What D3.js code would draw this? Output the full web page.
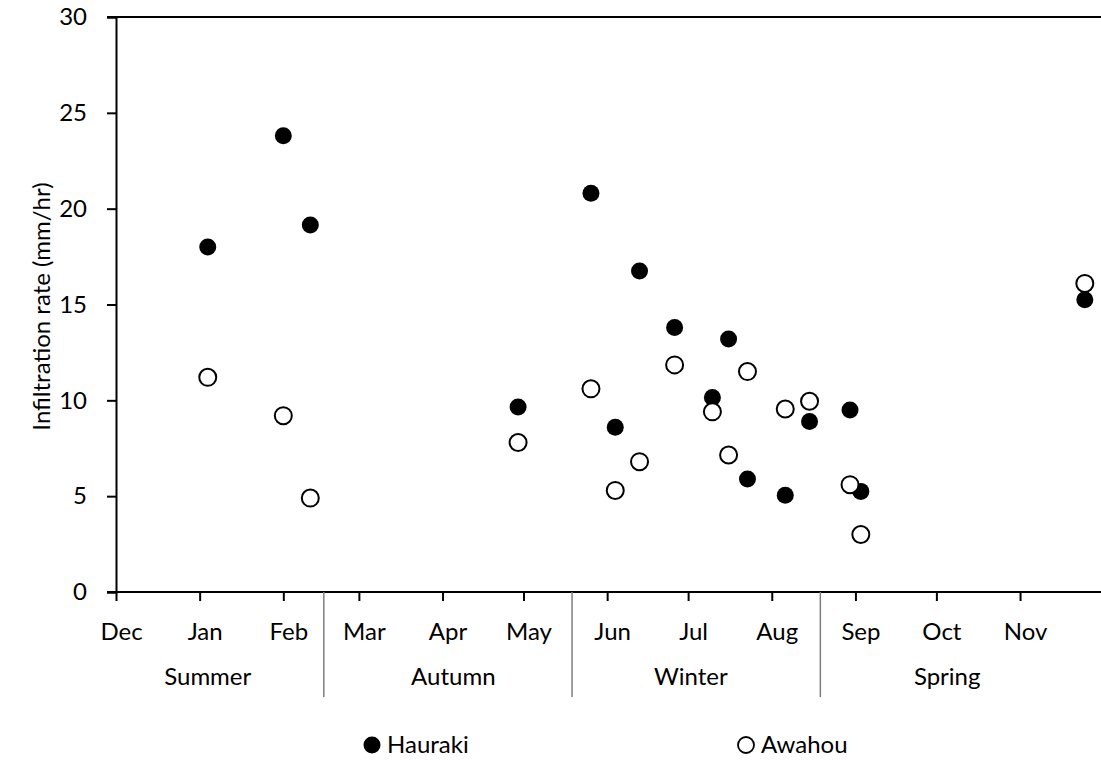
<!DOCTYPE html>
<html>
<head>
<meta charset="utf-8">
<script src="https://cdn.jsdelivr.net/npm/d3@7"></script>
<style>
  body { margin: 0; background: #fff; }
  text { font-family: Lato, "Noto Sans", sans-serif; fill: #000; }
</style>
</head>
<body>
<div id="container"></div>
<script>
// sampling dates (one Hauraki and one Awahou measurement each)
const sampleDates = ["2015-01-04", "2015-02-01", "2015-02-11", "2015-04-29", "2015-05-26",
                     "2015-06-04", "2015-06-13", "2015-06-26", "2015-07-10", "2015-07-16",
                     "2015-07-23", "2015-08-06", "2015-08-15", "2015-08-30", "2015-09-03",
                     "2015-11-25"];
const hauraki = [18.0, 23.8, 19.15, 9.65, 20.8, 8.6, 16.75, 13.8, 10.15, 13.2,
                 5.9, 5.05, 8.9, 9.5, 5.25, 15.25];
const awahou = [11.2, 9.2, 4.9, 7.8, 10.6, 5.3, 6.8, 11.85, 9.4, 7.15,
                11.5, 9.55, 9.95, 5.6, 3.0, 16.1];

const monthLabels = ["Dec", "Jan", "Feb", "Mar", "Apr", "May", "Jun", "Jul", "Aug", "Sep", "Oct", "Nov"];
const yTicks = [0, 5, 10, 15, 20, 25, 30];
const seasons = ["Summer", "Autumn", "Winter", "Spring"];
const seasonCentres = ["2015-01-04", "2015-04-05", "2015-07-02", "2015-10-05"];
const seasonBreaks = ["2015-02-16", "2015-05-19", "2015-08-19"];
const seriesNames = ["Hauraki", "Awahou"];

const WIDTH = 1101, HEIGHT = 760;
const margin = { top: 17, bottom: 168, left: 116, right: 0 };
const width = WIDTH - margin.left - margin.right,
      height = HEIGHT - margin.top - margin.bottom;

const parse = d3.timeParse("%Y-%m-%d");
const start = new Date(2014, 11, 1), end = new Date(2015, 11, 1);

const svg = d3.select("#container").append("svg")
    .attr("width", WIDTH).attr("height", HEIGHT);

const xScale = d3.scaleTime().domain([start, end]).range([margin.left, margin.left + width]);
const yScale = d3.scaleLinear().domain([0, 30]).range([margin.top + height, margin.top]);

const monthDates = d3.timeMonth.range(start, end);

// y axis
const yAxis = d3.axisLeft(yScale).tickValues(yTicks).tickSize(9).tickPadding(20);
const gy = svg.append("g")
    .attr("transform", `translate(${margin.left},0)`)
    .call(yAxis);
gy.select(".domain").attr("stroke", "#000").attr("stroke-width", 2);
gy.selectAll(".tick line").attr("stroke", "#000").attr("stroke-width", 2);
gy.selectAll(".tick text").style("font-size", "24px").attr("font-family", null);

// top border line
svg.append("line")
    .attr("x1", margin.left - 9).attr("x2", margin.left + width)
    .attr("y1", yScale(30)).attr("y2", yScale(30))
    .attr("stroke", "#000").attr("stroke-width", 2);

// x axis (months)
const xAxis = d3.axisBottom(xScale)
    .tickValues(monthDates)
    .tickFormat((d, i) => monthLabels[i])
    .tickSize(9).tickPadding(22);
const gx = svg.append("g")
    .attr("transform", `translate(0,${yScale(0)})`)
    .call(xAxis);
gx.select(".domain").remove();
gx.selectAll(".tick line").attr("stroke", "#000").attr("stroke-width", 2);
gx.selectAll(".tick text").style("font-size", "24px").attr("font-family", null).attr("dx", 5);

svg.append("line")
    .attr("x1", margin.left - 9).attr("x2", margin.left + width)
    .attr("y1", yScale(0)).attr("y2", yScale(0))
    .attr("stroke", "#000").attr("stroke-width", 2);

// season level
svg.selectAll(".season-break")
    .data(seasonBreaks)
    .join("line")
    .attr("class", "season-break")
    .attr("x1", d => xScale(parse(d))).attr("x2", d => xScale(parse(d)))
    .attr("y1", yScale(0)).attr("y2", yScale(0) + 105)
    .attr("stroke", "#7f7f7f").attr("stroke-width", 1.5);

svg.selectAll(".season")
    .data(seasons)
    .join("text")
    .attr("class", "season")
    .attr("x", (d, i) => xScale(parse(seasonCentres[i])))
    .attr("y", yScale(0) + 93)
    .attr("text-anchor", "middle")
    .style("font-size", "24px")
    .text(d => d);

// y title
svg.append("text")
    .attr("transform", `translate(50, ${(yScale(0) + yScale(30)) / 2 + 2}) rotate(-90)`)
    .attr("text-anchor", "middle")
    .style("font-size", "24px")
    .text("Infiltration rate (mm/hr)");

// points
const rows = sampleDates.map((d, i) => ({ date: parse(d), h: hauraki[i], a: awahou[i] }));

svg.selectAll(".hauraki")
    .data(rows)
    .join("circle")
    .attr("class", "hauraki")
    .attr("cx", d => xScale(d.date))
    .attr("cy", d => yScale(d.h))
    .attr("r", 8.5)
    .attr("fill", "#000");

svg.selectAll(".awahou")
    .data(rows)
    .join("circle")
    .attr("class", "awahou")
    .attr("cx", d => xScale(d.date))
    .attr("cy", d => yScale(d.a))
    .attr("r", 8.5)
    .attr("fill", "#fff")
    .attr("stroke", "#000")
    .attr("stroke-width", 2);

// legend
const legendX = [372, 746];
const legend = svg.selectAll(".legend")
    .data(seriesNames)
    .join("g")
    .attr("class", "legend")
    .attr("transform", (d, i) => `translate(${legendX[i]},745)`);
legend.append("circle")
    .attr("r", (d, i) => i === 0 ? 8.5 : 8)
    .attr("fill", (d, i) => i === 0 ? "#000" : "#fff")
    .attr("stroke", "#000")
    .attr("stroke-width", (d, i) => i === 0 ? 0 : 1.8);
legend.append("text")
    .attr("x", 15)
    .attr("dy", "0.35em")
    .style("font-size", "24px")
    .text(d => d);
</script>
</body>
</html>
